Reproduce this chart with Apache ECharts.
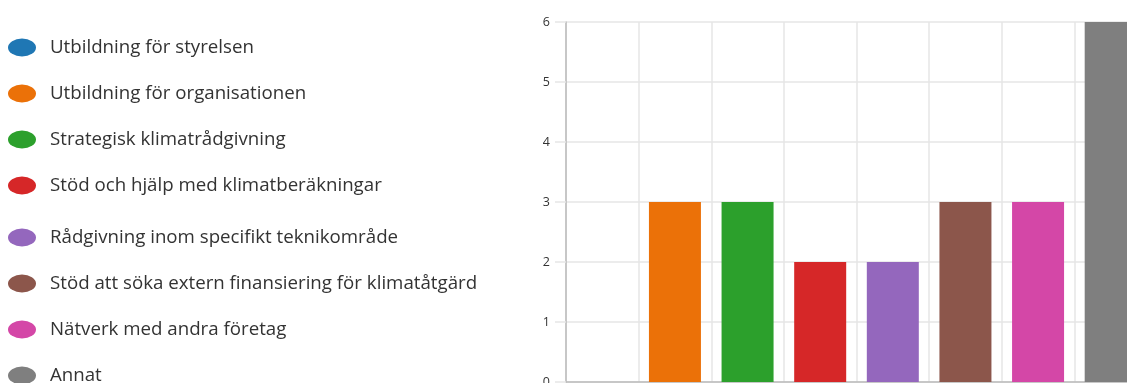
<!DOCTYPE html>
<html><head><meta charset="utf-8">
<script src="https://cdn.jsdelivr.net/npm/echarts@6/dist/echarts.min.js"></script>
<style>html,body{margin:0;padding:0;background:#fff}#c{width:1127px;height:383px}</style>
</head><body><div id="c"></div>
<script>
var categories = ["Utbildning för styrelsen","Utbildning för organisationen","Strategisk klimatrådgivning","Stöd och hjälp med klimatberäkningar","Rådgivning inom specifikt teknikområde","Stöd att söka extern finansiering för klimatåtgärd","Nätverk med andra företag","Annat"];
var values = [0,3,3,2,2,3,3,6];
var colors = ["#1f77b4","#eb7108","#2ca02c","#d62728","#9467bd","#8c564b","#d447a7","#7f7f7f"];
var yTicks = [0,1,2,3,4,5,6];

var ellipse = 'path://M0,9 A14,9 0 1,1 28,9 A14,9 0 1,1 0,9 Z';
var series = categories.map(function(name,i){
  var d = categories.map(function(_,j){ return j===i ? values[i] : null; });
  return {name:name,type:'bar',stack:'all',data:d,barWidth:52,itemStyle:{color:colors[i]}};
});
function legendCfg(top, names){
  return {orient:'vertical',left:8,top:top,height:200,padding:0,data:names,icon:ellipse,
    itemWidth:28,itemHeight:18,itemGap:27,selectedMode:false,
    textStyle:{fontFamily:'Open Sans',fontSize:18.7,color:'#333',padding:[3,0,0,9]}};
}
var chart = echarts.init(document.getElementById('c'));
chart.setOption({
  animation:false,
  color:colors,
  legend:[legendCfg(38, categories.slice(0,4)), legendCfg(228, categories.slice(4))],
  grid:{left:566,top:22,width:581,height:360,containLabel:false,outerBoundsMode:'none'},
  xAxis:{type:'category',data:categories,boundaryGap:true,
    axisLine:{lineStyle:{color:'#bbb',width:1.5}},axisTick:{show:false},axisLabel:{show:false},
    splitLine:{show:true,interval:0,lineStyle:{color:'#e6e6e6',width:1.5}}},
  yAxis:{type:'value',min:yTicks[0],max:yTicks[yTicks.length-1],interval:1,
    axisLine:{show:true,lineStyle:{color:'#bbb',width:1.5}},
    axisTick:{show:true,length:11,lineStyle:{color:'#e6e6e6',width:1.5}},
    axisLabel:{margin:16,fontFamily:'Open Sans',fontSize:12.5,color:'#333'},
    splitLine:{lineStyle:{color:'#e6e6e6',width:1.5}}},
  series:series
});
</script></body></html>
